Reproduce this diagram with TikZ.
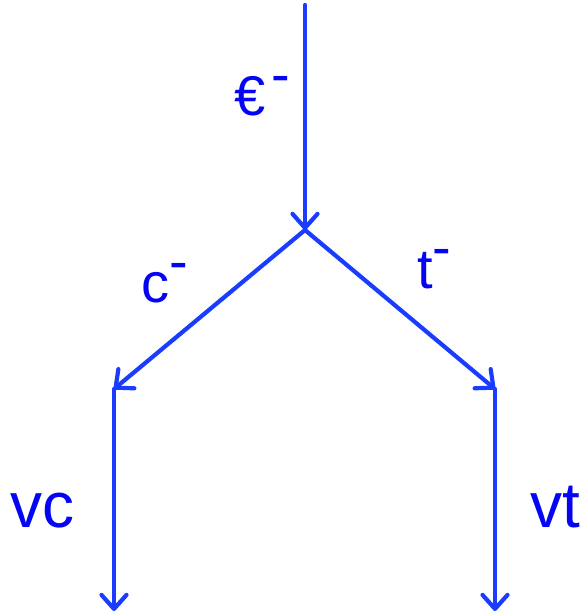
\documentclass[tikz,border=0pt]{standalone}
\usepackage{fontspec}
\setmainfont{Liberation Sans}
\usetikzlibrary{arrows.meta}
\definecolor{linkblue}{RGB}{25,60,255}
\definecolor{labelblue}{RGB}{5,5,245}
\newcommand{\supminus}{\raisebox{22pt}{-}}
\begin{document}
\begin{tikzpicture}[x=1pt,y=-1pt,
  link/.style={draw=linkblue,line width=4.2pt,line cap=round,
    -{Straight Barb[length=14pt,width=25pt,line width=4.2pt,round]}},
  lbl/.style={inner sep=0pt,anchor=base west,text=labelblue,font=\fontsize{56}{60}\selectfont},
  biglbl/.style={lbl,font=\fontsize{64}{68}\selectfont}]
\useasboundingbox (0,0) rectangle (579,616);
% branching points
\coordinate (top) at (305,5);
\coordinate (fork) at (305,230);
\coordinate (lmid) at (114,389);
\coordinate (rmid) at (495,389);
\coordinate (lbot) at (114,611);
\coordinate (rbot) at (495,611);
% connectors
\draw[link] (top) -- (fork);
\draw[link] (fork) -- (lmid);
\draw[link] (fork) -- (rmid);
\draw[link] (lmid) -- (lbot);
\draw[link] (rmid) -- (rbot);
% labels
\node[lbl] (euro) at (234,115) {€\hspace{6pt}\supminus};
\node[lbl] (c) at (141,302) {c\supminus};
\node[lbl] (t) at (417,288) {t\supminus};
\node[biglbl] (vc) at (10,527) {vc};
\node[biglbl] (vt) at (530,527) {vt};
\end{tikzpicture}
\end{document}
